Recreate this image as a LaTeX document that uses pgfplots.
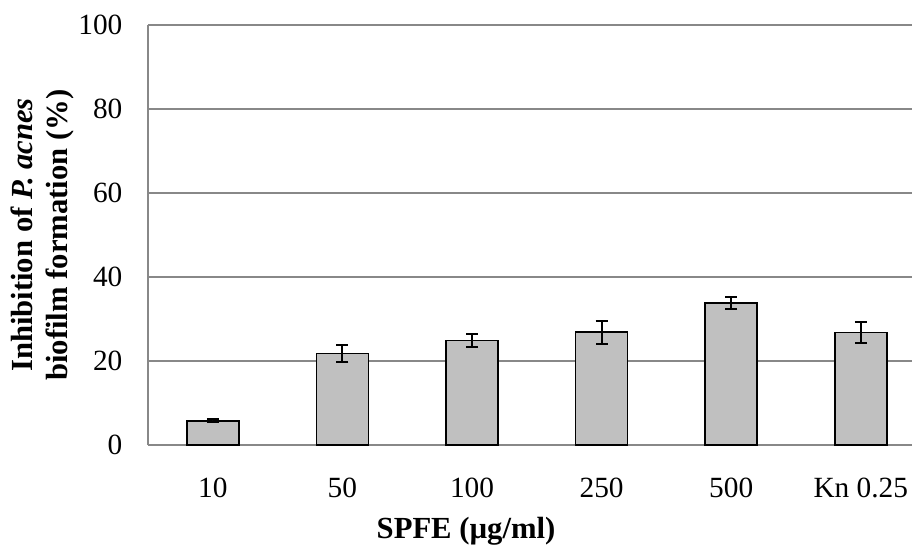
\documentclass[border=0pt]{standalone}
\usepackage{pgfplots}
\pgfplotsset{compat=1.18}
\usepackage{pgfplotstable}
\usepackage{fontspec}
\setmainfont{Liberation Serif}
\definecolor{barfill}{HTML}{C0C0C0}
\definecolor{gridgray}{HTML}{888888}
\pgfplotstableread{
x y e
0 5.8 0.4
1 21.8 2.0
2 24.85 1.55
3 26.85 2.75
4 33.85 1.35
5 26.8 2.4
}\datatable
\begin{document}
\begin{tikzpicture}
\useasboundingbox (-111pt,-75.75pt) rectangle (573pt,333.75pt);
\begin{axis}[
  at={(0,0)}, anchor=south west,
  scale only axis,
  width=583.2pt, height=315pt,
  xmin=-0.5, xmax=5.5,
  ymin=0, ymax=100,
  ytick={0,20,40,60,80,100},
  xtick={0,1,2,3,4,5},
  xticklabels={10,50,100,250,500,Kn 0.25},
  major tick length=0pt,
  axis x line*=bottom, axis y line*=left,
  axis line style={draw=gridgray, line width=0.9pt, -},
  ymajorgrids,
  grid style={draw=gridgray, line width=0.8pt},
  /pgf/number format/assume math mode=true,
  tick label style={font=\fontsize{22}{26}\selectfont, inner sep=0pt},
  yticklabel style={anchor=east, xshift=-19pt},
  xticklabel style={anchor=base, yshift=-39pt},
  xlabel={SPFE (µg/ml)},
  xlabel style={at={(axis description cs:0.409,0)}, anchor=center, yshift=-65pt, font=\fontsize{23}{27}\selectfont\bfseries},
  ylabel={Inhibition of \textit{P. acnes}\\biofilm formation (\%)},
  ylabel style={at={(axis description cs:-0.136,0.5)}, anchor=center, align=center, font=\fontsize{23}{26}\selectfont\bfseries},
  clip=false,
]
\addplot[ybar, bar width=39pt, fill=barfill, draw=black, line width=1.3pt,
  error bars/.cd, y dir=both, y explicit,
  error bar style={line width=1.5pt, draw=black},
  error mark options={rotate=90, mark size=4.5pt, line width=1.5pt, draw=black}]
  table[x=x, y=y, y error=e] {\datatable};
\end{axis}
\end{tikzpicture}
\end{document}
